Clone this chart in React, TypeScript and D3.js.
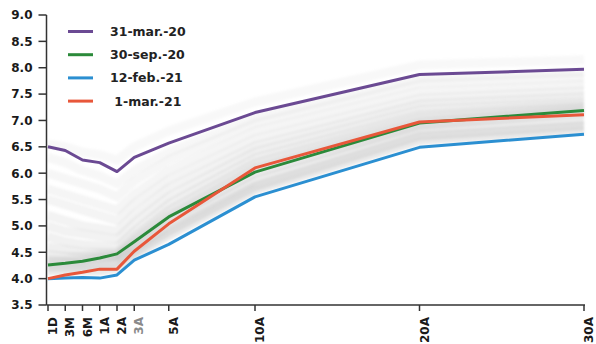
import React from "react";
import * as d3 from "d3";

const tenors = ["1D", "3M", "6M", "1A", "2A", "3A", "5A", "10A", "20A", "30A"];
const tenorPos = [-2, -1, 0, 1, 2, 3, 5, 10, 20, 30];
const yTicks = [3.5, 4.0, 4.5, 5.0, 5.5, 6.0, 6.5, 7.0, 7.5, 8.0, 8.5, 9.0];

const seriesNames = ["31-mar.-20", "30-sep.-20", "12-feb.-21", " 1-mar.-21"];
const seriesColors = ["#6b4a93", "#2b8a3a", "#2b8fd1", "#e8573a"];
const mar20 = [6.5, 6.43, 6.25, 6.2, 6.03, 6.3, 6.57, 7.15, 7.87, 7.97];
const sep20 = [4.26, 4.29, 4.33, 4.39, 4.47, 4.7, 5.17, 6.02, 6.95, 7.19];
const feb21 = [4.0, 4.01, 4.02, 4.01, 4.07, 4.35, 4.65, 5.55, 6.49, 6.74];
const mar21 = [4.0, 4.07, 4.12, 4.18, 4.18, 4.52, 5.04, 6.1, 6.97, 7.11];
const seriesValues = [mar20, sep20, feb21, mar21];
const drawOrder = [0, 2, 1, 3];

const hist0 = [6.55, 6.5, 6.4, 6.35, 6.25, 6.5, 6.8, 7.35, 8.05, 8.15];
const hist1 = [6.3, 6.2, 6.05, 5.95, 5.8, 6.05, 6.4, 7.05, 7.8, 7.92];
const hist2 = [6.0, 5.9, 5.8, 5.7, 5.55, 5.85, 6.25, 6.95, 7.7, 7.82];
const hist3 = [5.7, 5.6, 5.5, 5.4, 5.3, 5.6, 6.05, 6.8, 7.55, 7.68];
const hist4 = [5.5, 5.4, 5.3, 5.2, 5.1, 5.42, 5.88, 6.65, 7.42, 7.56];
const hist5 = [5.2, 5.1, 5.0, 4.95, 4.9, 5.22, 5.72, 6.52, 7.32, 7.46];
const hist6 = [5.0, 4.9, 4.85, 4.8, 4.75, 5.06, 5.56, 6.42, 7.22, 7.37];
const hist7 = [4.8, 4.7, 4.65, 4.62, 4.6, 4.9, 5.42, 6.3, 7.12, 7.3];
const hist8 = [4.6, 4.55, 4.5, 4.5, 4.5, 4.8, 5.3, 6.2, 7.05, 7.25];
const hist9 = [4.45, 4.42, 4.42, 4.45, 4.45, 4.72, 5.2, 6.1, 6.96, 7.2];
const hist10 = [4.35, 4.35, 4.35, 4.4, 4.43, 4.66, 5.12, 6.0, 6.9, 7.14];
const hist11 = [4.3, 4.3, 4.3, 4.32, 4.38, 4.58, 5.0, 5.86, 6.8, 7.0];
const hist12 = [4.22, 4.22, 4.22, 4.25, 4.3, 4.5, 4.9, 5.75, 6.7, 6.9];
const hist13 = [4.15, 4.15, 4.15, 4.15, 4.2, 4.45, 4.82, 5.68, 6.62, 6.82];
const histValues = [hist0, hist1, hist2, hist3, hist4, hist5, hist6, hist7, hist8, hist9, hist10, hist11, hist12, hist13];

const W = 596;
const H = 344;
const FONT = "'DejaVu Sans', sans-serif";

export default function App() {
  const x = d3.scaleLinear().domain([-2, 10, 30]).range([48, 255, 584]);
  const y = d3.scaleLinear().domain([3.5, 9]).range([305, 15]);
  const line = d3
    .line<number>()
    .x((_, i) => x(tenorPos[i]))
    .y((d) => y(d));
  const x0 = x(-2) - 1.5;
  const yBottom = y(3.5);
  const nH = histValues.length;

  return (
    <svg
      width={W}
      height={H}
      style={{ position: "absolute", left: 0, top: 0, background: "#fff" }}
    >
      <defs>
        <filter id="soft" x="-5%" y="-20%" width="110%" height="140%">
          <feGaussianBlur stdDeviation="1.3" />
        </filter>
      </defs>
      <g filter="url(#soft)">
        {histValues.map((vals, i) => (
          <path
            key={"h" + i}
            d={line(vals) || ""}
            fill="none"
            stroke="#bdbdbd"
            strokeOpacity={0.1 + (0.22 * i) / (nH - 1)}
            strokeWidth={9}
            strokeLinejoin="round"
          />
        ))}
      </g>
      {drawOrder.map((si) => (
        <path
          key={"s" + si}
          d={line(seriesValues[si]) || ""}
          fill="none"
          stroke={seriesColors[si]}
          strokeWidth={3}
          strokeLinejoin="round"
        />
      ))}
      {/* axes */}
      <line x1={x0} x2={x0} y1={y(9)} y2={yBottom} stroke="#333" strokeWidth={1.5} />
      <line x1={x0} x2={x(30) + 1} y1={yBottom} y2={yBottom} stroke="#333" strokeWidth={1.5} />
      {yTicks.map((t) => (
        <g key={"yt" + t}>
          <line x1={x0 - 8} x2={x0} y1={y(t)} y2={y(t)} stroke="#333" strokeWidth={1.5} />
          <text
            x={x0 - 14}
            y={y(t)}
            dy="0.36em"
            textAnchor="end"
            fontFamily={FONT}
            fontWeight="bold"
            fontSize={12}
            fill="#1a1a1a"
          >
            {t.toFixed(1)}
          </text>
        </g>
      ))}
      {tenors.map((t, i) => (
        <g key={"xt" + t}>
          <line
            x1={x(tenorPos[i])}
            x2={x(tenorPos[i])}
            y1={yBottom}
            y2={yBottom + 6}
            stroke="#333"
            strokeWidth={1.5}
          />
          <text
            transform={`translate(${x(tenorPos[i])},${yBottom + 12}) rotate(-90)`}
            dy="0.75em"
            textAnchor="end"
            fontFamily={FONT}
            fontWeight="bold"
            fontSize={12}
            fill={t === "3A" ? "#8a8a8a" : "#1a1a1a"}
          >
            {t}
          </text>
        </g>
      ))}
      {/* legend */}
      {seriesNames.map((n, i) => (
        <g key={"lg" + i} transform={`translate(68,${31.5 + i * 23.2})`}>
          <line x1={0} x2={25} y1={0} y2={0} stroke={seriesColors[i]} strokeWidth={3} />
          <text
            x={42}
            y={0}
            dy="0.36em"
            fontFamily={FONT}
            fontWeight="bold"
            fontSize={12.5}
            fill="#222"
            style={{ whiteSpace: "pre" }}
          >
            {n}
          </text>
        </g>
      ))}
    </svg>
  );
}
